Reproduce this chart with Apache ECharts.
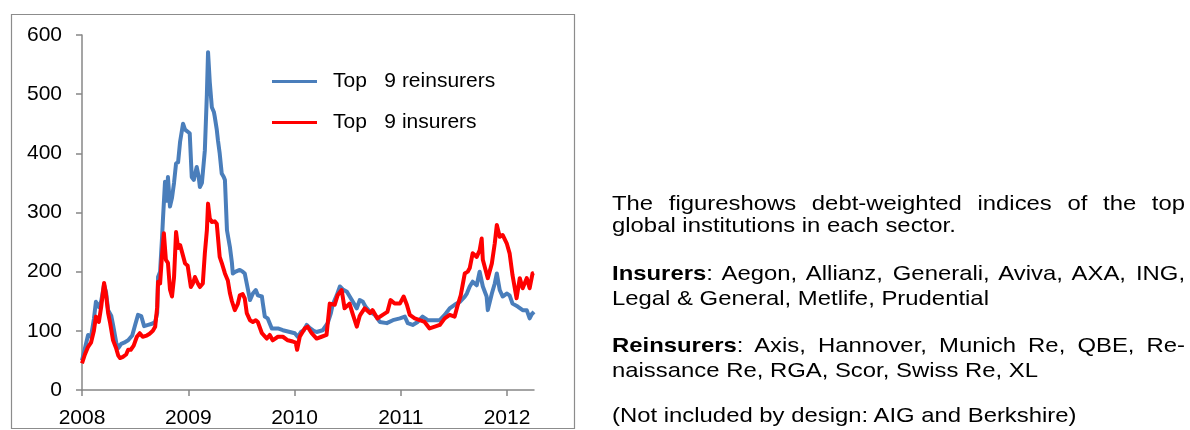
<!DOCTYPE html>
<html>
<head>
<meta charset="utf-8">
<script src="https://cdn.jsdelivr.net/npm/echarts@6/dist/echarts.min.js"></script>
<style>
    body { margin: 0; background: #fff; }
    #wrap { position: relative; width: 1190px; height: 430px; overflow: hidden; }
    #chart { position: absolute; left: 0; top: 0; width: 1190px; height: 430px; }
    .ln {
        position: absolute; left: 612px; width: 504px;
        font-family: 'Liberation Sans', Arial, sans-serif; font-size: 21px; line-height: 24px;
        color: #000; white-space: nowrap;
        transform: scaleX(1.137); transform-origin: left top;
    }
    .just { white-space: normal; text-align: justify; text-align-last: justify; }
</style>
</head>
<body>
<div id="wrap">
    <div id="chart"></div>
    <div class="ln just" style="top:191px">The figureshows debt-weighted indices of the top</div>
    <div class="ln" style="top:213px">global institutions in each sector.</div>
    <div class="ln just" style="top:261px"><b>Insurers</b>: Aegon, Allianz, Generali, Aviva, AXA, ING,</div>
    <div class="ln" style="top:286px">Legal &amp; General, Metlife, Prudential</div>
    <div class="ln just" style="top:333px"><b>Reinsurers</b>: Axis, Hannover, Munich Re, QBE, Re-</div>
    <div class="ln" style="top:358px">naissance Re, RGA, Scor, Swiss Re, XL</div>
    <div class="ln" style="top:403px">(Not included by design: AIG and Berkshire)</div>
</div>
<script>
// 再保险公司 (blue)
var reinsDates = [
    '2008-01-01','2008-01-11','2008-01-22','2008-02-01','2008-02-11','2008-02-18','2008-02-28','2008-03-07',
    '2008-03-17','2008-03-24','2008-03-31','2008-04-11','2008-04-17','2008-04-28','2008-05-05','2008-05-15',
    '2008-05-25','2008-06-08','2008-06-22','2008-07-02','2008-07-12','2008-07-23','2008-08-02','2008-08-16',
    '2008-08-29','2008-09-09','2008-09-16','2008-09-19','2008-09-26','2008-10-03','2008-10-06','2008-10-13',
    '2008-10-20','2008-10-23','2008-10-30','2008-11-06','2008-11-13','2008-11-20','2008-11-27','2008-12-04',
    '2008-12-14','2008-12-21','2008-12-27','2009-01-06','2009-01-13','2009-01-20','2009-01-30','2009-02-06',
    '2009-02-10','2009-02-17','2009-02-27','2009-03-06','2009-03-10','2009-03-16','2009-03-23','2009-03-30',
    '2009-04-02','2009-04-09','2009-04-13','2009-04-19','2009-04-26','2009-05-03','2009-05-07','2009-05-14',
    '2009-05-24','2009-05-31','2009-06-03','2009-06-13','2009-06-27','2009-07-07','2009-07-14','2009-07-25',
    '2009-08-01','2009-08-11','2009-08-21','2009-08-28','2009-09-11','2009-09-14','2009-09-21','2009-10-01',
    '2009-10-15','2009-11-05','2009-11-22','2009-12-16','2010-01-02','2010-01-12','2010-01-23','2010-02-02',
    '2010-02-12','2010-02-22','2010-03-08','2010-03-18','2010-04-08','2010-04-25','2010-05-06','2010-05-12',
    '2010-05-26','2010-06-06','2010-06-16','2010-06-30','2010-07-17','2010-08-03','2010-08-13','2010-08-24',
    '2010-09-03','2010-09-17','2010-10-04','2010-10-21','2010-11-14','2010-12-05','2010-12-29','2011-01-15',
    '2011-01-25','2011-02-11','2011-02-28','2011-03-17','2011-04-04','2011-04-28','2011-05-15','2011-06-01',
    '2011-06-18','2011-07-05','2011-07-23','2011-08-09','2011-08-16','2011-08-26','2011-09-05','2011-09-19',
    '2011-09-29','2011-10-10','2011-10-23','2011-10-27','2011-11-10','2011-11-20','2011-11-27','2011-12-07',
    '2011-12-17','2011-12-31','2012-01-10','2012-01-20','2012-02-07','2012-02-24','2012-03-09','2012-03-19',
    '2012-03-26','2012-04-03'
];
var reinsValues = [
    50, 70, 93, 90, 120, 149, 140, 150,
    178, 165, 135, 125, 110, 80, 71, 78,
    80, 84, 92, 110, 127, 125, 108, 110,
    112, 115, 130, 191, 200, 260, 290, 352,
    320, 360, 310, 325, 350, 383, 385, 420,
    450, 440, 439, 434, 360, 355, 377, 360,
    343, 350, 405, 500, 571, 520, 478, 470,
    462, 440, 422, 400, 366, 360, 355, 270,
    242, 215, 197, 200, 203, 200, 197, 170,
    152, 163, 169, 160, 158, 147, 124, 121,
    104, 104, 101, 98, 96, 90, 98, 101,
    110, 105, 100, 98, 101, 113, 130, 144,
    160, 175, 170, 166, 152, 138, 152, 149,
    140, 132, 127, 115, 113, 118, 121, 124,
    113, 110, 115, 124, 118, 118, 118, 127,
    138, 144, 149, 158, 163, 175, 183, 177,
    200, 175, 158, 135, 163, 180, 197, 169,
    158, 163, 160, 146, 141, 135, 135, 121,
    128, 132
];
// 保险公司 (red)
var insDates = [
    '2008-01-01','2008-01-11','2008-01-22','2008-02-01','2008-02-11','2008-02-18','2008-02-28','2008-03-07',
    '2008-03-17','2008-03-24','2008-03-31','2008-04-07','2008-04-17','2008-04-28','2008-05-05','2008-05-11',
    '2008-05-21','2008-06-01','2008-06-08','2008-06-17','2008-06-27','2008-07-08','2008-07-18','2008-07-28',
    '2008-08-11','2008-08-21','2008-09-01','2008-09-09','2008-09-16','2008-09-19','2008-09-26','2008-10-03',
    '2008-10-09','2008-10-16','2008-10-23','2008-10-30','2008-11-06','2008-11-13','2008-11-20','2008-11-27',
    '2008-12-04','2008-12-09','2008-12-21','2008-12-30','2009-01-10','2009-01-17','2009-01-24','2009-02-03',
    '2009-02-10','2009-02-20','2009-02-27','2009-03-06','2009-03-10','2009-03-16','2009-03-23','2009-04-02',
    '2009-04-09','2009-04-19','2009-04-26','2009-05-07','2009-05-17','2009-05-24','2009-05-31','2009-06-10',
    '2009-06-20','2009-06-27','2009-07-07','2009-07-14','2009-07-21','2009-08-01','2009-08-11','2009-08-21',
    '2009-08-28','2009-09-11','2009-09-28','2009-10-08','2009-10-18','2009-11-05','2009-11-22','2009-12-09',
    '2009-12-26','2010-01-05','2010-01-10','2010-01-19','2010-02-05','2010-02-15','2010-03-01','2010-03-18',
    '2010-04-04','2010-04-21','2010-05-02','2010-05-19','2010-05-29','2010-06-12','2010-06-22','2010-07-09',
    '2010-07-19','2010-08-03','2010-08-13','2010-08-19','2010-08-30','2010-09-17','2010-09-26','2010-10-13',
    '2010-10-31','2010-11-16','2010-11-27','2010-12-11','2010-12-29','2011-01-11','2011-01-22','2011-02-01',
    '2011-02-18','2011-03-07','2011-03-24','2011-04-10','2011-04-28','2011-05-15','2011-06-01','2011-06-18',
    '2011-07-05','2011-07-16','2011-07-26','2011-08-09','2011-08-19','2011-08-26','2011-09-05','2011-09-19',
    '2011-09-29','2011-10-06','2011-10-10','2011-10-27','2011-11-10','2011-11-20','2011-11-27','2011-12-07',
    '2011-12-17','2011-12-31','2012-01-10','2012-01-20','2012-02-03','2012-02-14','2012-02-24','2012-03-09',
    '2012-03-19','2012-03-29','2012-04-03'
];
var insValues = [
    45, 60, 73, 80, 100, 124, 115, 140,
    181, 160, 130, 113, 84, 70, 58, 54,
    56, 60, 68, 68, 75, 90, 96, 90,
    92, 95, 100, 107, 140, 183, 180, 230,
    265, 220, 215, 170, 158, 190, 267, 240,
    245, 236, 214, 210, 174, 180, 191, 180,
    174, 180, 231, 270, 315, 290, 284, 285,
    281, 225, 215, 197, 185, 164, 150, 135,
    145, 160, 162, 155, 130, 118, 115, 118,
    115, 96, 87, 93, 84, 90, 90, 84,
    82, 80, 68, 90, 104, 107, 96, 87,
    90, 93, 146, 144, 160, 169, 138, 146,
    130, 107, 125, 130, 138, 130, 135, 121,
    127, 132, 152, 146, 146, 158, 144, 127,
    121, 118, 115, 104, 107, 110, 121, 127,
    124, 144, 160, 197, 200, 206, 231, 225,
    236, 256, 220, 189, 214, 248, 279, 259,
    262, 248, 231, 194, 155, 189, 172, 189,
    172, 197, 198
];
var seriesNames = ['Top   9 reinsurers', 'Top   9 insurers'];
var yearTicks = [2008, 2009, 2010, 2011, 2012];
var yTicks = [0, 100, 200, 300, 400, 500, 600];

(function(){
    var font = 'Liberation Sans';
    var axisGray = '#878787';

    // 'YYYY-MM-DD' -> 小数年份
    function toYear(s) {
        var p = s.split('-');
        var y = +p[0];
        var start = Date.UTC(y, 0, 1);
        var end = Date.UTC(y + 1, 0, 1);
        var t = Date.UTC(y, +p[1] - 1, +p[2]);
        return y + (t - start) / (end - start);
    }
    function pairs(dates, values) {
        var out = [];
        for (var i = 0; i < dates.length; i++) {
            out.push([toYear(dates[i]), values[i]]);
        }
        return out;
    }

    var dom = document.getElementById('chart');
    var myChart = echarts.init(dom, null, {renderer: 'canvas'});
    var option = {
        animation: false,
        backgroundColor: 'transparent',
        grid: {left: 82, right: 656, top: 35, bottom: 40, containLabel: false},
        legend: {
            left: 267,
            top: 66,
            orient: 'vertical',
            icon: 'rect',
            itemWidth: 45,
            itemHeight: 3,
            itemGap: 20,
            data: seriesNames,
            textStyle: {
                fontFamily: font,
                fontSize: 21,
                lineHeight: 21,
                color: '#000',
                padding: [0, 0, 0, 11]
            }
        },
        xAxis: {
            type: 'value',
            min: yearTicks[0],
            max: toYear('2012-04-03'),
            interval: 1,
            axisLine: {show: true, onZero: false, lineStyle: {color: axisGray, width: 1.5}},
            axisTick: {show: true, length: 6, inside: false, customValues: yearTicks,
                lineStyle: {color: axisGray, width: 1.5}},
            axisLabel: {
                customValues: yearTicks,
                margin: 18,
                fontFamily: font,
                fontSize: 21,
                color: '#000',
                formatter: function(v) {
                    return String(Math.round(v));
                }
            },
            splitLine: {show: false}
        },
        yAxis: {
            type: 'value',
            min: yTicks[0],
            max: yTicks[yTicks.length - 1],
            interval: 100,
            axisLine: {show: true, lineStyle: {color: axisGray, width: 1.5}},
            axisTick: {show: true, length: 6, lineStyle: {color: axisGray, width: 1.5}},
            axisLabel: {margin: 20, fontFamily: font, fontSize: 21, color: '#000'},
            splitLine: {show: false}
        },
        graphic: [{
            type: 'rect',
            silent: true,
            shape: {x: 11.5, y: 14.5, width: 563, height: 414},
            style: {fill: 'none', stroke: '#8c8c8c', lineWidth: 1.2}
        }],
        series: [
            {
                name: seriesNames[0],
                type: 'line',
                showSymbol: false,
                symbol: 'none',
                data: pairs(reinsDates, reinsValues),
                itemStyle: {color: '#4a7ebb'},
                lineStyle: {color: '#4a7ebb', width: 4, join: 'round'},
                z: 2
            },
            {
                name: seriesNames[1],
                type: 'line',
                showSymbol: false,
                symbol: 'none',
                data: pairs(insDates, insValues),
                itemStyle: {color: '#ff0000'},
                lineStyle: {color: '#ff0000', width: 4, join: 'round'},
                z: 3
            }
        ]
    };
    myChart.setOption(option);
})();
</script>
</body>
</html>
